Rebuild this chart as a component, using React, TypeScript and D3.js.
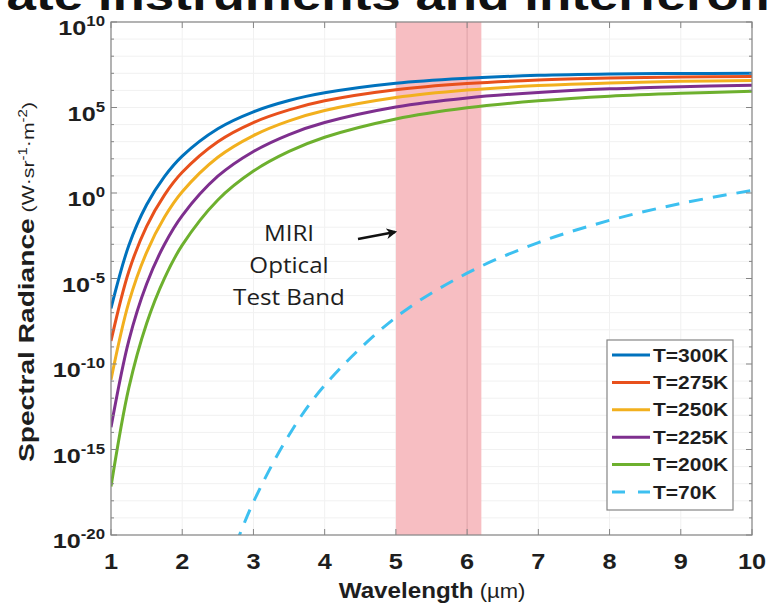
import React from "react";
import * as d3 from "d3";

// Wavelength samples (µm)
const wavelengths = [1, 1.25, 1.5, 1.75, 2, 2.5, 3, 3.5, 4, 5, 6, 7, 8, 9, 10];
// log10 of spectral radiance
const t300 = [-6.75, -3.07, -0.69, 0.96, 2.16, 3.76, 4.75, 5.41, 5.86, 6.42, 6.71, 6.88, 6.96, 6.99, 7.0];
const t275 = [-8.65, -4.59, -1.95, -0.12, 1.21, 3.0, 4.12, 4.86, 5.39, 6.04, 6.4, 6.61, 6.72, 6.78, 6.81];
const t250 = [-10.92, -6.4, -3.47, -1.42, 0.07, 2.09, 3.36, 4.22, 4.82, 5.58, 6.02, 6.28, 6.44, 6.53, 6.58];
const t225 = [-13.7, -8.63, -5.32, -3.01, -1.32, 0.98, 2.43, 3.42, 4.12, 5.03, 5.56, 5.88, 6.09, 6.22, 6.3];
const t200 = [-17.17, -11.4, -7.63, -4.99, -3.05, -0.41, 1.28, 2.43, 3.26, 4.33, 4.98, 5.39, 5.66, 5.83, 5.95];
const wavelengths70 = [2.75, 3, 3.5, 4, 5, 6, 7, 8, 9, 10];
const t70 = [-20.58, -18.07, -14.15, -11.25, -7.27, -4.69, -2.9, -1.6, -0.61, 0.15];

const seriesLabels = ["T=300K", "T=275K", "T=250K", "T=225K", "T=200K", "T=70K"];
const seriesColors = ["#0072BD", "#E8501C", "#F2B01E", "#7E2F8E", "#6DB02E", "#3DC0F0"];
const xTicks = [1, 2, 3, 4, 5, 6, 7, 8, 9, 10];
const yMajorExps = [10, 5, 0, -5, -10, -15, -20];
const band = [5, 6.2];
const annotationLines = ["MIRI", "Optical", "Test Band"];
const slideTitle = "rate instruments and interferom";

const W = 769;
const H = 607;
const L = 111, R = 752, T = 22, B = 535;

export default function App() {
  const x = d3.scaleLinear().domain([1, 10]).range([L, R]);
  const y = d3.scaleLog().domain([1e-20, 1e10]).range([B, T]);

  const series = [
    { xs: wavelengths, ys: t300 },
    { xs: wavelengths, ys: t275 },
    { xs: wavelengths, ys: t250 },
    { xs: wavelengths, ys: t225 },
    { xs: wavelengths, ys: t200 },
    { xs: wavelengths70, ys: t70 },
  ];

  const line = d3
    .line<[number, number]>()
    .x((d) => x(d[0]))
    .y((d) => y(Math.pow(10, d[1])))
    .curve(d3.curveCatmullRom.alpha(0.5));

  const decades = d3.range(-20, 11);
  const axisColor = "#858585";
  const font = "Liberation Sans, Arial, sans-serif";
  const ink = "#1e1e1e";

  return (
    <svg
      width={W}
      height={H}
      style={{ position: "absolute", left: 0, top: 0, background: "#fff" }}
    >
      <defs>
        <clipPath id="plotClip">
          <rect x={L} y={T} width={R - L} height={B - T} />
        </clipPath>
        <marker id="arrowHead" viewBox="0 0 10 10" refX={8} refY={5} markerWidth={4.5} markerHeight={4.5} orient="auto">
          <path d="M0,0 L10,5 L0,10 L3,5 Z" fill="#111" />
        </marker>
      </defs>
      <rect x={0} y={0} width={W} height={H} fill="#fff" />

      {/* cut-off slide title */}
      <text
        x={-14}
        y={10}
        fontFamily={font}
        fontWeight="bold"
        fontSize={42}
        fill="#111"
        textLength={800}
        lengthAdjust="spacingAndGlyphs"
      >
        {slideTitle}
      </text>

      {/* grid */}
      <g stroke="#f1f1f1" strokeWidth={1}>
        {decades.map((e) => (
          <line key={"gy" + e} x1={L} x2={R} y1={y(Math.pow(10, e))} y2={y(Math.pow(10, e))} />
        ))}
        {xTicks.map((t) => (
          <line key={"gx" + t} x1={x(t)} x2={x(t)} y1={T} y2={B} />
        ))}
      </g>

      {/* band */}
      <rect x={x(band[0])} y={T} width={x(band[1]) - x(band[0])} height={B - T} fill="#F7BEC2" />
      <line x1={x(6)} x2={x(6)} y1={T} y2={B} stroke="#DDA2A8" strokeWidth={1} />

      {/* curves */}
      <g clipPath="url(#plotClip)" fill="none">
        {series.map((s, i) => (
          <path
            key={i}
            d={line(s.xs.map((v, j) => [v, s.ys[j]] as [number, number])) || ""}
            stroke={seriesColors[i]}
            strokeWidth={3}
            strokeDasharray={i === 5 ? "14,10" : undefined}
          />
        ))}
      </g>

      {/* axes box */}
      <rect x={L} y={T} width={R - L} height={B - T} fill="none" stroke={axisColor} strokeWidth={1.2} />

      {/* ticks */}
      <g stroke={axisColor} strokeWidth={1}>
        {xTicks.map((t) => (
          <g key={"xt" + t}>
            <line x1={x(t)} x2={x(t)} y1={B} y2={B - 6} />
            <line x1={x(t)} x2={x(t)} y1={T} y2={T + 6} />
          </g>
        ))}
        {decades.map((e) => {
          const len = e % 5 === 0 ? 6 : 3;
          const yy = y(Math.pow(10, e));
          return (
            <g key={"yt" + e}>
              <line x1={L} x2={L + len} y1={yy} y2={yy} />
              <line x1={R} x2={R - len} y1={yy} y2={yy} />
            </g>
          );
        })}
      </g>

      {/* x tick labels */}
      <g fontFamily={font} fontWeight="bold" fontSize={22} fill={ink} textAnchor="middle">
        {xTicks.map((t) => (
          <text key={"xl" + t} transform={`translate(${x(t)},569) scale(1.15,1)`}>
            {t}
          </text>
        ))}
      </g>

      {/* y tick labels */}
      <g fontFamily={font} fontWeight="bold" fill={ink} textAnchor="end">
        {yMajorExps.map((e) => (
          <text
            key={"yl" + e}
            transform={`translate(105,${y(Math.pow(10, e)) + 13}) scale(1.2,1)`}
            fontSize={21}
          >
            10
            <tspan fontSize={14} dy={-9}>
              {e}
            </tspan>
          </text>
        ))}
      </g>

      {/* y title */}
      <text
        transform={`translate(34, 282) rotate(-90) scale(1.25,1)`}
        textAnchor="middle"
        fontFamily={font}
        fill={ink}
      >
        <tspan fontWeight="bold" fontSize={22.5}>
          Spectral Radiance
        </tspan>
        <tspan fontSize={17}>{"  (W·sr"}</tspan>
        <tspan fontSize={12} dy={-7}>
          -1
        </tspan>
        <tspan fontSize={17} dy={7}>
          ·m
        </tspan>
        <tspan fontSize={12} dy={-7}>
          -2
        </tspan>
        <tspan fontSize={17} dy={7}>
          )
        </tspan>
      </text>

      {/* x title */}
      <text transform="translate(432,598) scale(1.1,1)" textAnchor="middle" fontFamily={font} fill={ink}>
        <tspan fontWeight="bold" fontSize={22}>
          Wavelength
        </tspan>
        <tspan fontSize={20}> (µm)</tspan>
      </text>

      {/* annotation */}
      <g fontFamily="Open Sans, sans-serif" fontSize={21} fill={ink} textAnchor="middle">
        {annotationLines.map((s, i) => (
          <text key={s} transform={`translate(289,${241 + i * 32}) scale(1.15,1)`}>
            {s}
          </text>
        ))}
      </g>
      <line x1={358} y1={239} x2={395} y2={232} stroke="#111" strokeWidth={2.4} markerEnd="url(#arrowHead)" />

      {/* legend */}
      <rect x={607} y={340} width={126} height={170} fill="#fff" stroke={axisColor} strokeWidth={1.2} />
      {seriesLabels.map((s, i) => {
        const yy = 355 + i * 27.4;
        return (
          <g key={s}>
            <line
              x1={612}
              x2={650}
              y1={yy}
              y2={yy}
              stroke={seriesColors[i]}
              strokeWidth={3}
              strokeDasharray={i === 5 ? "13,13" : undefined}
            />
            <text
              transform={`translate(653,${yy + 6.5}) scale(1.2,1)`}
              fontFamily={font}
              fontWeight="bold"
              fontSize={17.5}
              fill={ink}
            >
              {s}
            </text>
          </g>
        );
      })}
    </svg>
  );
}
